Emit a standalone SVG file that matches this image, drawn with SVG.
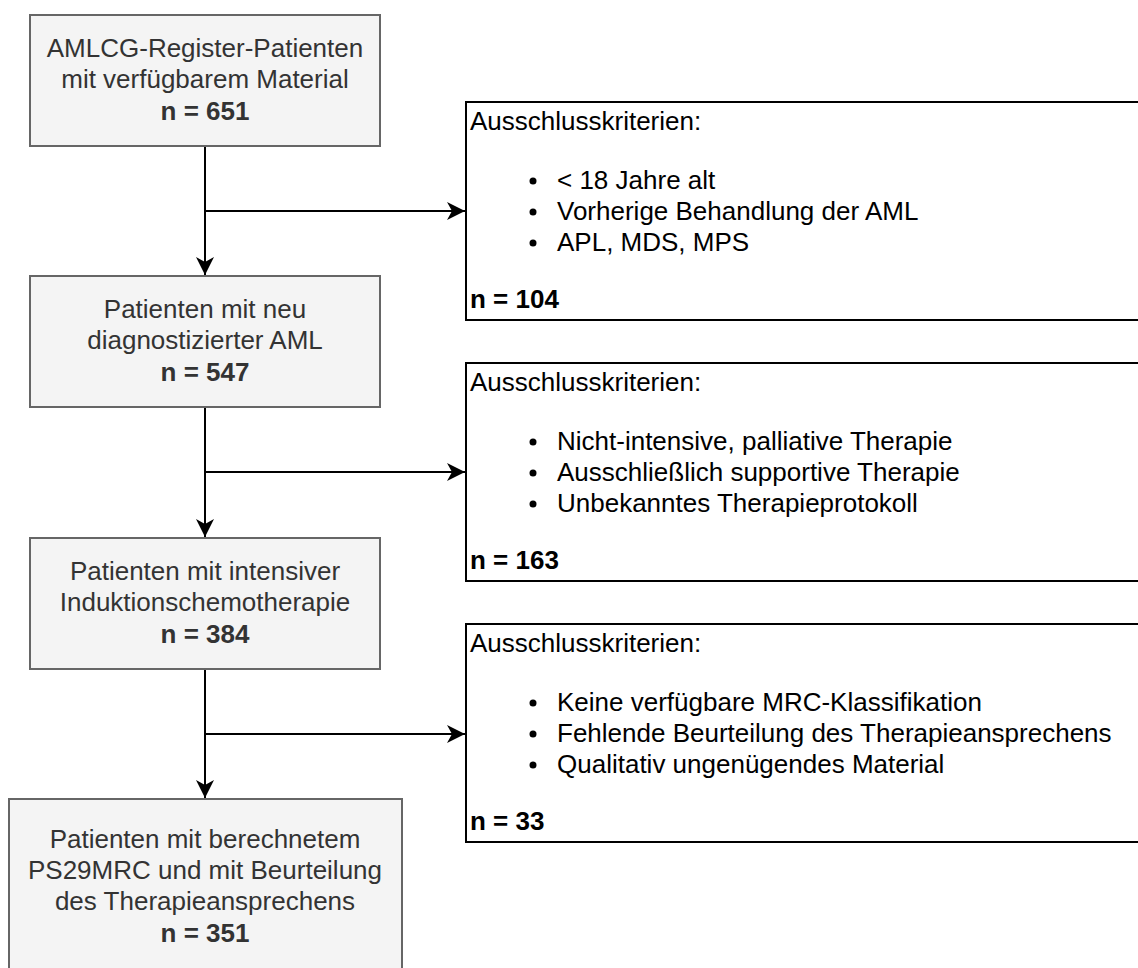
<svg xmlns="http://www.w3.org/2000/svg" width="1138" height="968" viewBox="0 0 1138 968">
<style>
.lbox{fill:#f4f4f4;stroke:#666666;stroke-width:2}
.rbox{fill:#ffffff;stroke:#000000;stroke-width:2}
.lt{font-family:"Liberation Sans",Arial,sans-serif;font-size:26px;fill:#333333;text-anchor:middle}
.rt{font-family:"Liberation Sans",Arial,sans-serif;font-size:26px;fill:#000000}
.b{font-weight:bold}
.con{fill:none;stroke:#000000;stroke-width:2}
</style>
<defs>
<marker id="arr" markerUnits="userSpaceOnUse" markerWidth="20" markerHeight="20" viewBox="0 0 20 20" refX="18" refY="10" orient="auto">
<path d="M18,10 L0,1 L5,10 L0,19 Z" fill="#000000"/>
</marker>
</defs>
<rect width="1138" height="968" fill="#ffffff"/>
<g id="connectors">
<path class="con" d="M205,146 V275" marker-end="url(#arr)"/>
<path class="con" d="M205,211 H465" marker-end="url(#arr)"/>
<path class="con" d="M205,407 V537" marker-end="url(#arr)"/>
<path class="con" d="M205,472 H465" marker-end="url(#arr)"/>
<path class="con" d="M205,669 V798" marker-end="url(#arr)"/>
<path class="con" d="M205,734 H465" marker-end="url(#arr)"/>
</g>
<g id="node1">
<rect class="lbox" x="30" y="15" width="350" height="131"/>
<text class="lt" x="205" y="57">AMLCG-Register-Patienten</text>
<text class="lt" x="205" y="88">mit verfügbarem Material</text>
<text class="lt b" x="205" y="120">n = 651</text>
</g>
<g id="node2">
<rect class="lbox" x="30" y="276" width="350" height="131"/>
<text class="lt" x="205" y="318">Patienten mit neu</text>
<text class="lt" x="205" y="349">diagnostizierter AML</text>
<text class="lt b" x="205" y="381">n = 547</text>
</g>
<g id="node3">
<rect class="lbox" x="30" y="538" width="350" height="131"/>
<text class="lt" x="205" y="580">Patienten mit intensiver</text>
<text class="lt" x="205" y="611">Induktionschemotherapie</text>
<text class="lt b" x="205" y="643">n = 384</text>
</g>
<g id="node4">
<rect class="lbox" x="9" y="799" width="393" height="178"/>
<text class="lt" x="205" y="848">Patienten mit berechnetem</text>
<text class="lt" x="205" y="879">PS29MRC und mit Beurteilung</text>
<text class="lt" x="205" y="910">des Therapieansprechens</text>
<text class="lt b" x="205" y="942">n = 351</text>
</g>
<g id="excl1">
<rect class="rbox" x="466" y="102" width="700" height="218"/>
<text class="rt" x="470" y="130">Ausschlusskriterien:</text>
<circle cx="533" cy="181" r="3.5"/>
<text class="rt" x="557" y="189">&lt; 18 Jahre alt</text>
<circle cx="533" cy="212" r="3.5"/>
<text class="rt" x="557" y="220">Vorherige Behandlung der AML</text>
<circle cx="533" cy="243" r="3.5"/>
<text class="rt" x="557" y="251">APL, MDS, MPS</text>
<text class="rt b" x="470" y="308">n = 104</text>
</g>
<g id="excl2">
<rect class="rbox" x="466" y="363" width="700" height="218"/>
<text class="rt" x="470" y="391">Ausschlusskriterien:</text>
<circle cx="533" cy="442" r="3.5"/>
<text class="rt" x="557" y="450">Nicht-intensive, palliative Therapie</text>
<circle cx="533" cy="473" r="3.5"/>
<text class="rt" x="557" y="481">Ausschließlich supportive Therapie</text>
<circle cx="533" cy="504" r="3.5"/>
<text class="rt" x="557" y="512">Unbekanntes Therapieprotokoll</text>
<text class="rt b" x="470" y="569">n = 163</text>
</g>
<g id="excl3">
<rect class="rbox" x="466" y="624" width="700" height="218"/>
<text class="rt" x="470" y="652">Ausschlusskriterien:</text>
<circle cx="533" cy="703" r="3.5"/>
<text class="rt" x="557" y="711">Keine verfügbare MRC-Klassifikation</text>
<circle cx="533" cy="734" r="3.5"/>
<text class="rt" x="557" y="742">Fehlende Beurteilung des Therapieansprechens</text>
<circle cx="533" cy="765" r="3.5"/>
<text class="rt" x="557" y="773">Qualitativ ungenügendes Material</text>
<text class="rt b" x="470" y="830">n = 33</text>
</g>
</svg>
